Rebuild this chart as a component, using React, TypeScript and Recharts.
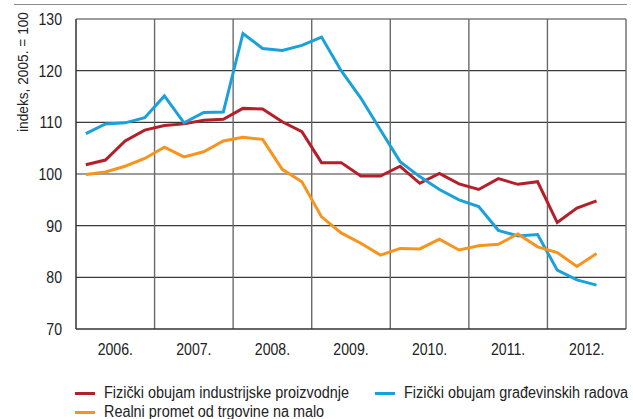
import React from 'react';
import { LineChart, Line, XAxis, YAxis, ReferenceLine } from 'recharts';

const years = ['2006.', '2007.', '2008.', '2009.', '2010.', '2011.', '2012.'];

// quarterly, 2006 Q1 .. 2012 Q3
const industry = [
  101.8, 102.7, 106.4, 108.5, 109.4, 109.7, 110.4, 110.6,
  112.7, 112.6, 110.1, 108.2, 102.2, 102.2, 99.6, 99.6,
  101.5, 98.2, 100.1, 98.1, 97.0, 99.1, 98.0, 98.5,
  90.6, 93.4, 94.8,
];
const construction = [
  107.8, 109.7, 109.9, 110.9, 115.1, 109.9, 111.9, 112.0,
  127.2, 124.3, 123.9, 124.9, 126.5, 120.0, 114.7, 108.5,
  102.4, 99.5, 97.0, 95.0, 93.7, 89.1, 88.0, 88.3,
  81.4, 79.5, 78.5,
];
const retail = [
  99.9, 100.4, 101.5, 103.0, 105.2, 103.3, 104.3, 106.4,
  107.1, 106.7, 100.9, 98.5, 91.7, 88.6, 86.6, 84.3,
  85.6, 85.5, 87.4, 85.3, 86.1, 86.4, 88.4, 85.9,
  84.8, 82.1, 84.6,
];

const yTicks = [70, 80, 90, 100, 110, 120, 130];
const yearTicks = [2, 6, 10, 14, 18, 22, 26];
const yearBounds = [4, 8, 12, 16, 20, 24, 28];

const RED = '#b51f29';
const BLUE = '#1aa1db';
const ORANGE = '#f7941d';
const FONT = '"Liberation Sans", Arial, sans-serif';
// no narrow font installed, so squeeze the regular one
const SQUEEZE = 0.83;

const data = industry.map((v, i) => ({
  x: i + 0.5,
  industry: v,
  construction: construction[i],
  retail: retail[i],
}));

const legendItems = [
  { label: 'Fizički obujam industrijske proizvodnje', color: RED, left: 75, top: 393 },
  { label: 'Fizički obujam građevinskih radova', color: BLUE, left: 375, top: 393 },
  { label: 'Realni promet od trgovine na malo', color: ORANGE, left: 75, top: 412 },
];

const YTick = (props: any) => {
  const { x, y, payload } = props;
  return (
    <text transform={`translate(${x},${y}) scale(${SQUEEZE},1)`} textAnchor="end" dominantBaseline="central" fontSize={17} fill="#222" style={{ fontFamily: FONT }}>
      {payload.value}
    </text>
  );
};

const XTick = (props: any) => {
  const { x, y, payload } = props;
  return (
    <text transform={`translate(${x},${y + 6}) scale(${SQUEEZE},1)`} textAnchor="middle" dominantBaseline="central" fontSize={17} fill="#222" style={{ fontFamily: FONT }}>
      {years[(payload.value - 2) / 4]}
    </text>
  );
};

const App: React.FC = () => {
  return (
    <div style={{ position: 'fixed', left: 0, top: 0, width: 633, height: 419, background: '#fff', overflow: 'hidden', fontFamily: FONT }}>
      <div style={{ position: 'absolute', left: 14, top: 4, width: 613, height: 1, background: '#8c8c8c' }} />
      <LineChart width={633} height={419} data={data} margin={{ top: 19, right: 7, bottom: 60, left: 0 }}>
        {yTicks.slice(1).map(t => (
          <ReferenceLine key={`h${t}`} y={t} stroke="#3a3a3a" strokeWidth={1.2} />
        ))}
        {yearBounds.map(b => (
          <ReferenceLine key={`v${b}`} x={b} stroke="#6a6a6a" strokeWidth={1.4} />
        ))}
        <XAxis
          type="number"
          dataKey="x"
          domain={[0, 28]}
          ticks={yearTicks}
          height={30}
          tickLine={false}
          tickMargin={8}
          axisLine={{ stroke: '#333', strokeWidth: 1.5 }}
          tick={<XTick />}
          interval={0}
        />
        <YAxis
          type="number"
          domain={[70, 130]}
          ticks={yTicks}
          width={76}
          tickLine={false}
          tickMargin={8}
          axisLine={{ stroke: '#333', strokeWidth: 1.5 }}
          tick={<YTick />}
          interval={0}
        />
        <Line dataKey="industry" stroke={RED} strokeWidth={3} dot={false} isAnimationActive={false} />
        <Line dataKey="construction" stroke={BLUE} strokeWidth={3} dot={false} isAnimationActive={false} />
        <Line dataKey="retail" stroke={ORANGE} strokeWidth={3} dot={false} isAnimationActive={false} />
      </LineChart>
      <svg style={{ position: 'absolute', left: 0, top: 0 }} width={40} height={150}>
        <text
          transform="translate(22,72) rotate(-90)"
          textAnchor="middle"
          dominantBaseline="central"
          fontSize={15}
          fill="#222"
          textLength={120}
          lengthAdjust="spacingAndGlyphs"
          style={{ fontFamily: FONT }}
        >
          indeks, 2005. = 100
        </text>
      </svg>
      {legendItems.map(item => (
        <div
          key={item.label}
          style={{ position: 'absolute', left: item.left, top: item.top - 10, height: 20, display: 'flex', alignItems: 'center', whiteSpace: 'nowrap' }}
        >
          <span style={{ display: 'inline-block', width: 20, height: 3, background: item.color, marginRight: 9 }} />
          <span style={{ fontSize: 16, color: '#222', display: 'inline-block', transform: 'scaleX(0.9)', transformOrigin: 'left center' }}>{item.label}</span>
        </div>
      ))}
    </div>
  );
};

export default App;
